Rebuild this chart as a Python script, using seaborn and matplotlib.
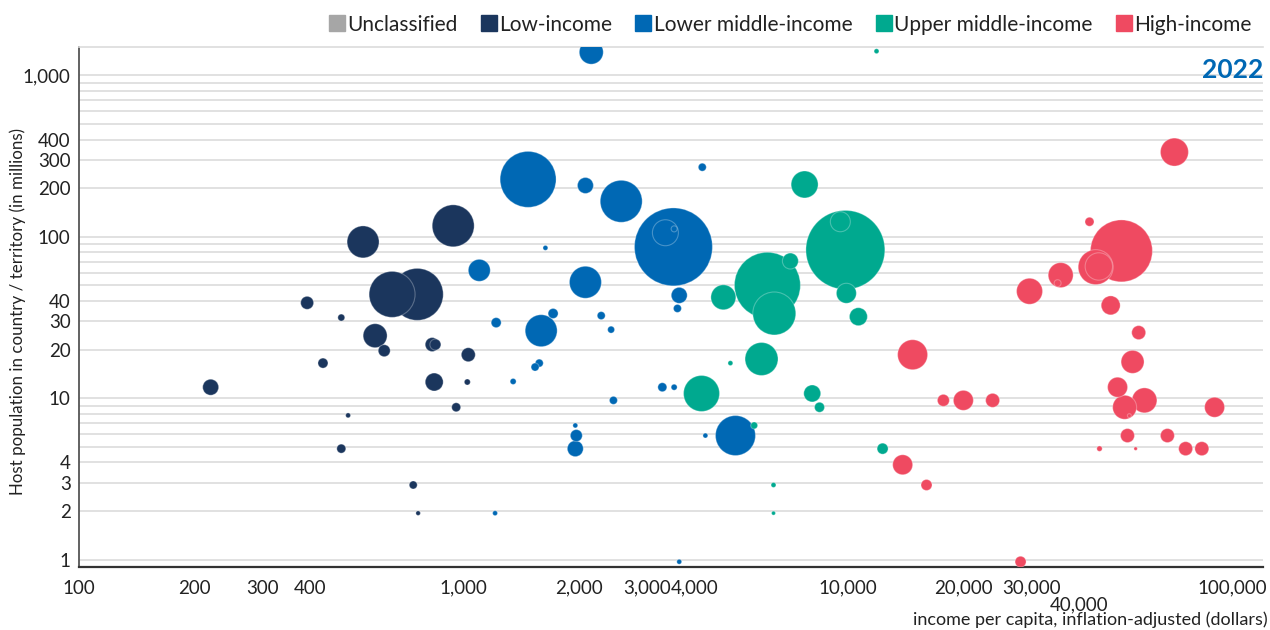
import numpy as np
import pandas as pd
import matplotlib
matplotlib.use("Agg")
import matplotlib.pyplot as plt
from matplotlib.lines import Line2D
import seaborn as sns

# income groups and their colours
groups = ['Unclassified', 'Low-income', 'Lower middle-income', 'Upper middle-income', 'High-income']
group_colors = ['#a6a6a6', '#1b365d', '#0068b4', '#00a98f', '#ef4a61']

# per host country: income per capita ($), host population (millions), refugees hosted (thousands)
low_income = [548, 940, 652, 758, 392, 481, 589, 622, 829, 845, 1029, 431, 220, 839, 1023, 957, 501, 481, 740, 762]
low_pop = [93, 117, 44, 44, 39, 31.6, 24.4, 19.7, 21.5, 21.5, 18.6, 16.5, 11.7, 12.6, 12.6, 8.79, 7.83, 4.87, 2.9, 1.94]
low_ref = [589, 1014, 1217, 1555, 97, 28, 331, 83, 113, 70, 113, 58, 147, 186, 21, 47, 14, 47, 37, 12]

lmid_income = [2149, 1472, 2075, 2571, 4178, 3515, 3350, 3530, 1633, 1099, 2075, 3639, 3600, 1710, 1216, 1592,
               2281, 2420, 1574, 1535, 1346, 3289, 3530, 2454, 1953, 1965, 1953, 4256, 5096, 1208, 3639]
lmid_pop = [1393, 227, 208, 166, 270, 86.6, 106, 112, 85.4, 62, 52.3, 43.4, 36, 33.5, 29.4, 26.2,
            32.5, 26.6, 16.5, 15.6, 12.7, 11.7, 11.7, 9.7, 6.78, 5.87, 4.87, 5.87, 5.87, 1.94, 0.97]
lmid_ref = [331, 1803, 147, 1014, 37, 3498, 389, 21, 14, 278, 589, 147, 37, 58, 58, 589,
            37, 28, 37, 37, 21, 47, 21, 37, 14, 83, 147, 14, 920, 14, 14]

umid_income = [11860, 7710, 9842, 9550, 7080, 9900, 6170, 6430, 4740, 10640, 5957, 4944, 4159, 8070, 8430,
               5700, 12300, 6400, 6400]
umid_pop = [1413, 211, 83, 124, 70.8, 44.7, 50.1, 33.5, 42.2, 32, 17.5, 16.5, 10.7, 10.7, 8.79,
            6.78, 4.87, 2.9, 1.94]
umid_ref = [14, 419, 3589, 230, 147, 230, 2505, 1063, 359, 186, 626, 14, 745, 166, 58,
            28, 70, 14, 9]

high_income = [70600, 42460, 51400, 44060, 44900, 35730, 35080, 29650, 48200, 57000, 54950, 50230, 59000,
               52400, 53900, 89800, 53300, 67700, 45080, 55970, 75500, 83200, 14720, 17700, 19950, 23770,
               13870, 16000, 28100]
high_pop = [335, 124, 81.8, 64.9, 65.5, 57.9, 51.6, 46, 37.6, 25.5, 16.8, 11.7, 9.7,
            8.79, 7.8, 8.79, 5.87, 5.87, 4.87, 4.87, 4.87, 4.87, 18.6, 9.7, 9.7, 9.7,
            3.87, 2.9, 0.97]
high_ref = [451, 47, 2210, 704, 432, 359, 28, 389, 208, 113, 304, 230, 359,
            331, 9, 230, 113, 113, 17, 7, 113, 113, 518, 83, 230, 113,
            230, 70, 70]

x_ticks_labelled = {100: '100', 200: '200', 300: '300', 400: '400', 1000: '1,000', 2000: '2,000',
                    3000: '3,000', 4000: '4,000', 10000: '10,000', 20000: '20,000', 30000: '30,000',
                    40000: '40,000', 100000: '100,000'}
y_ticks_labelled = {1: '1', 2: '2', 3: '3', 4: '4', 10: '10', 20: '20', 30: '30', 40: '40',
                    100: '100', 200: '200', 300: '300', 400: '400', 1000: '1,000'}

df = pd.concat([
    pd.DataFrame({'income': low_income, 'pop': low_pop, 'refugees': low_ref, 'group': 'Low-income'}),
    pd.DataFrame({'income': lmid_income, 'pop': lmid_pop, 'refugees': lmid_ref, 'group': 'Lower middle-income'}),
    pd.DataFrame({'income': umid_income, 'pop': umid_pop, 'refugees': umid_ref, 'group': 'Upper middle-income'}),
    pd.DataFrame({'income': high_income, 'pop': high_pop, 'refugees': high_ref, 'group': 'High-income'}),
], ignore_index=True)
# big bubbles first so the small ones sit on top
df = df.sort_values('refugees', ascending=False)

sns.set_style('white')
plt.rcParams['font.family'] = ['Lato', 'DejaVu Sans']

fig = plt.figure(figsize=(12.7, 6.3), dpi=100)
ax = fig.add_axes([79 / 1270, 63 / 630, 1184 / 1270, 520 / 630])

palette = dict(zip(groups, group_colors))
# no alpha kwarg here: it would override the translucent white edge
sns.scatterplot(data=df, x='income', y='pop', hue='group', size='refugees',
                palette=palette, hue_order=groups, sizes=(0, 3600), size_norm=(0, 4000),
                edgecolor=(1, 1, 1, 0.28), linewidth=0.8, legend=False, ax=ax, zorder=3)

ax.set_xscale('log')
ax.set_yscale('log')
ax.set_xlim(100, 120000)
ax.set_ylim(0.9, 1500)

xt = [k * 10 ** n for n in range(2, 5) for k in range(1, 10)] + [100000, 120000]
ax.set_xticks(xt)
ax.set_xticklabels([x_ticks_labelled.get(t, '') for t in xt])
ax.xaxis.set_minor_locator(matplotlib.ticker.NullLocator())

yt = [k * 10 ** n for n in range(0, 4) for k in range(1, 10) if k * 10 ** n <= 1000]
ax.set_yticks(yt)
ax.set_yticklabels([y_ticks_labelled.get(t, '') for t in yt])
ax.yaxis.set_minor_locator(matplotlib.ticker.NullLocator())

ax.yaxis.grid(True, color='#dcdcdc', lw=1.2)
ax.xaxis.grid(False)
ax.set_axisbelow(True)

ax.tick_params(axis='x', length=6, width=1, color='#444', labelsize=13.5, labelcolor='#222', pad=3)
ax.tick_params(axis='y', length=5, width=1, color='#555', labelsize=13.5, labelcolor='#222', pad=1)
# 40,000 sits on a second row under its neighbours
ax.xaxis.get_major_ticks()[xt.index(40000)].set_pad(15)

ax.spines['right'].set_visible(False)
ax.spines['top'].set_color('#dcdcdc')
ax.spines['top'].set_linewidth(1.2)
ax.spines['left'].set_color('#555')
ax.spines['left'].set_linewidth(1.3)
ax.spines['bottom'].set_color('#333')
ax.spines['bottom'].set_linewidth(1.6)
ax.set_xlabel('')
ax.set_ylabel('')

fig.text(18 / 1270, 0.505, 'Host population in country / territory (in millions)', rotation=90,
         ha='center', va='center', fontsize=12.2, color='#222')
fig.text(1268 / 1270, 5 / 630, 'income per capita, inflation-adjusted (dollars)', ha='right',
         va='baseline', fontsize=13, color='#222')
ax.text(1.0, 0.955, '2022', transform=ax.transAxes, ha='right', va='center',
        fontsize=19, fontweight='bold', color='#0068b4')

handles = [Line2D([0], [0], marker='s', linestyle='none', markersize=11, markerfacecolor=c,
                  markeredgecolor=c) for c in group_colors]
fig.legend(handles, groups, loc='upper right', bbox_to_anchor=(1266 / 1270, 1.0), ncol=5,
           frameon=False, fontsize=15, handletextpad=0.0, columnspacing=1.0,
           borderpad=0.2, handlelength=1.0, labelcolor='#222')

fig.savefig('out.png', dpi=100)
